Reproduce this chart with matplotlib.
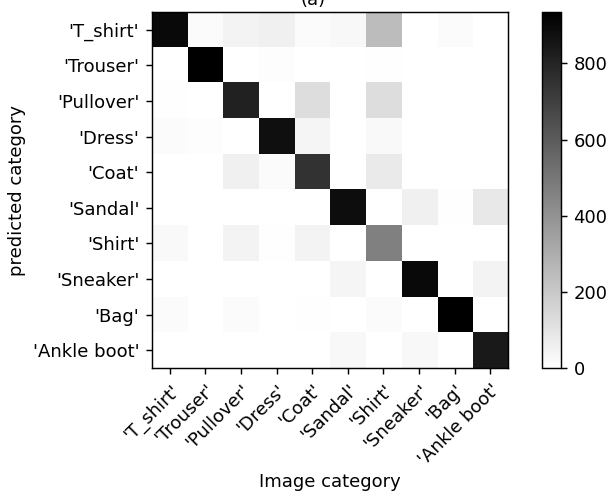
import numpy as np
import matplotlib
matplotlib.use("Agg")
import matplotlib.pyplot as plt

labels = ["'T_shirt'", "'Trouser'", "'Pullover'", "'Dress'", "'Coat'",
          "'Sandal'", "'Shirt'", "'Sneaker'", "'Bag'", "'Ankle boot'"]

# rows = predicted category, columns = image category
row_tshirt = [895, 18, 44, 58, 18, 29, 248, 0, 18, 0]
row_trouser = [0, 935, 0, 10, 0, 0, 5, 0, 0, 0]
row_pullover = [5, 0, 810, 3, 125, 0, 125, 0, 2, 0]
row_dress = [15, 10, 0, 880, 40, 0, 25, 0, 0, 0]
row_coat = [0, 0, 55, 18, 748, 0, 77, 0, 0, 0]
row_sandal = [0, 0, 0, 0, 0, 884, 0, 55, 5, 85]
row_shirt = [25, 0, 44, 5, 44, 0, 467, 0, 0, 0]
row_sneaker = [0, 0, 0, 0, 0, 37, 0, 898, 0, 44]
row_bag = [15, 0, 18, 0, 4, 0, 15, 0, 930, 0]
row_boot = [0, 0, 0, 0, 0, 29, 0, 29, 0, 840]

cm = np.array([row_tshirt, row_trouser, row_pullover, row_dress, row_coat,
               row_sandal, row_shirt, row_sneaker, row_bag, row_boot])

dpi = 130
fig = plt.figure(figsize=(609 / dpi, 492 / dpi), dpi=dpi)
ax = fig.add_axes([0.2496, 0.252, 0.5846, 0.7236])
cax = fig.add_axes([0.890, 0.252, 0.031, 0.7236])

im = ax.imshow(cm, cmap="gray_r", vmin=0, vmax=cm.max(), aspect="auto")
cb = fig.colorbar(im, cax=cax)
cb.set_ticks([0, 200, 400, 600, 800])

ax.set_xticks(range(len(labels)))
ax.set_yticks(range(len(labels)))
ax.set_xticklabels(labels, rotation=45, ha="right", rotation_mode="anchor")
ax.set_yticklabels(labels)
ax.set_xlabel("Image category", labelpad=2.5)
ax.set_ylabel("predicted category")

# title sits mostly above the top edge, as in the reference
fig.text(313 / 609, 1.0, "(a)", ha="center", va="center")

fig.savefig("out.png", dpi=dpi)
